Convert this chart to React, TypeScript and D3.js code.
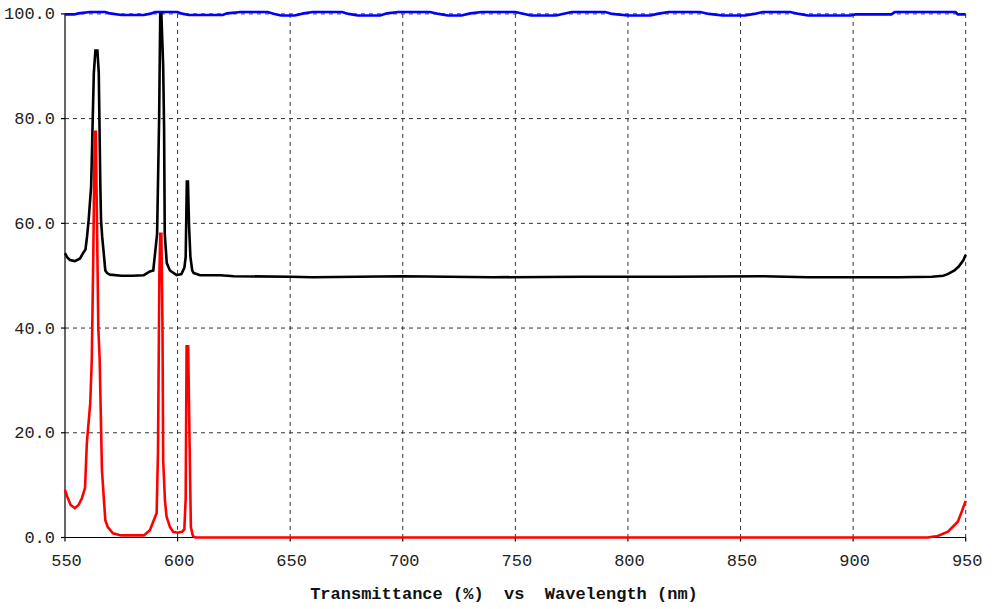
import * as d3 from "d3";

// wavelength (nm) / transmittance (%) samples
const blueNm = [550, 554, 556, 561, 568, 570, 575, 585, 588, 590, 600, 602, 605, 620, 622, 628, 640, 643, 646, 652, 656, 660, 673, 676, 680, 690, 693, 698, 712, 716, 720, 726, 730, 735, 750, 754, 757, 768, 771, 775, 790, 793, 800, 810, 813, 818, 832, 836, 842, 852, 856, 860, 872, 876, 880, 899, 901, 917, 918.5, 945.5, 946.5, 950];
const blueVal = [99.9, 99.9, 100.1, 100.35, 100.35, 100.1, 99.8, 99.8, 100.05, 100.35, 100.35, 100.05, 99.8, 99.8, 100.1, 100.35, 100.35, 100.0, 99.7, 99.7, 100.1, 100.35, 100.35, 100.0, 99.7, 99.7, 100.1, 100.35, 100.35, 100.0, 99.7, 99.7, 100.1, 100.35, 100.35, 100.0, 99.7, 99.7, 100.0, 100.35, 100.35, 100.0, 99.7, 99.7, 100.0, 100.35, 100.35, 100.0, 99.7, 99.7, 100.0, 100.35, 100.35, 100.0, 99.7, 99.7, 99.9, 99.9, 100.35, 100.35, 99.9, 99.9];

const blackNm = [550, 551, 552.2, 554.4, 556.7, 558, 559.1, 559.8, 560.5, 561.6, 562.8, 563.5, 564.4, 565.0, 565.7, 566.0, 566.5, 567.2, 567.9, 568.7, 570, 575, 580, 585, 587.7, 589.2, 590.9, 591.8, 592.3, 592.8, 593.6, 594.0, 594.3, 595.2, 596.6, 599.6, 601.7, 603.0, 603.6, 604.1, 604.6, 605.1, 605.7, 606.5, 607.2, 610, 619, 625, 650, 660, 700, 740, 780, 820, 860, 880, 920, 935, 940, 942, 945, 947, 949, 950];
const blackVal = [54.3, 53.5, 53.0, 52.8, 53.3, 54.3, 55, 57.5, 60.6, 67, 88.7, 93, 93, 88.7, 67, 60.6, 57.5, 54.3, 51, 50.5, 50.2, 50.0, 50.0, 50.1, 50.8, 51, 58, 80, 100, 100, 90, 78.5, 58, 52.4, 51, 50.1, 50.3, 51.5, 53.6, 68, 68, 59.4, 53.6, 51, 50.5, 50.1, 50.1, 49.9, 49.8, 49.7, 49.9, 49.7, 49.8, 49.8, 49.9, 49.7, 49.7, 49.8, 50.0, 50.3, 51.0, 51.8, 53, 54];

const redNm = [550, 551, 552.5, 554.4, 556, 557.5, 558.9, 559.7, 561.2, 561.9, 562.6, 563.2, 563.7, 564.2, 564.8, 565.4, 566.4, 567.9, 569, 571.3, 575, 585, 587.7, 590.7, 591.3, 591.9, 592.3, 592.8, 593.3, 593.6, 594.4, 595.1, 596.6, 598, 600, 602, 603.0, 603.6, 604.0, 604.7, 605.3, 605.9, 606.8, 607.9, 933, 937.6, 942.1, 946.5, 948.2, 950];
const redVal = [9.1, 7.8, 6.2, 5.6, 6.2, 7.5, 9.5, 18, 25.6, 34, 55, 77.5, 77.5, 60, 40, 34, 12.9, 3.3, 2, 0.8, 0.4, 0.4, 1.4, 4.7, 16.4, 50, 58, 58, 40, 14.8, 7, 4, 2, 1.1, 0.9, 1.1, 1.6, 7.5, 36.5, 36.5, 18.6, 2, 0.3, 0, 0, 0.3, 1.1, 3, 4.9, 7];

const xTicks = [550, 600, 650, 700, 750, 800, 850, 900, 950];
const yTicks = [0, 20, 40, 60, 80, 100];

const W = 1006;
const H = 609;
const font = "'Liberation Mono', 'DejaVu Sans Mono', monospace";

type Pt = [number, number];
const zip = (a: number[], b: number[]): Pt[] => a.map((v, i) => [v, b[i]]);

export default function App() {
    const x = d3.scaleLinear().domain([550, 950]).range([65, 965.7]);
    const y = d3.scaleLinear().domain([0, 100]).range([537.5, 13.9]);
    const line = d3.line<Pt>().x((d) => x(d[0])).y((d) => y(d[1]));

    const series = [
        { pts: zip(blueNm, blueVal), color: "#0000ff" },
        { pts: zip(blackNm, blackVal), color: "#000000" },
        { pts: zip(redNm, redVal), color: "#ff0000" },
    ];

    return (
        <svg width={W} height={H} style={{ position: "absolute", left: 0, top: 0, background: "#fff" }}>
            {/* grid */}
            {xTicks.slice(1).map((t) => (
                <line key={"gx" + t} x1={x(t)} x2={x(t)} y1={y(100)} y2={y(0)}
                    stroke="#333" strokeWidth={1} strokeDasharray="4,4" />
            ))}
            {yTicks.slice(1).map((t) => (
                <line key={"gy" + t} x1={x(550)} x2={x(950)} y1={y(t)} y2={y(t)}
                    stroke="#333" strokeWidth={1} strokeDasharray="4,4" />
            ))}
            {/* axes */}
            <line x1={x(550)} x2={x(550)} y1={y(100)} y2={y(0)} stroke="#000" strokeWidth={1.2} />
            <line x1={x(550)} x2={x(950)} y1={y(0)} y2={y(0)} stroke="#000" strokeWidth={1.2} />
            {yTicks.map((t) => (
                <g key={"ty" + t}>
                    <line x1={x(550) - 4} x2={x(550)} y1={y(t)} y2={y(t)} stroke="#000" strokeWidth={1.2} />
                    <text x={55} y={y(t)} dy="0.32em" textAnchor="end" fontFamily={font} fontSize={17} fill="#222">
                        {d3.format(".1f")(t)}
                    </text>
                </g>
            ))}
            {xTicks.map((t) => (
                <g key={"tx" + t}>
                    <line x1={x(t)} x2={x(t)} y1={y(0)} y2={y(0) + 4} stroke="#000" strokeWidth={1.2} />
                    <text x={x(t) + 1.5} y={566} textAnchor="middle" fontFamily={font} fontSize={17} fill="#222">
                        {t}
                    </text>
                </g>
            ))}
            {/* curves */}
            {series.map((s, i) => (
                <path key={i} d={line(s.pts) ?? ""} fill="none" stroke={s.color} strokeWidth={2.6} />
            ))}
            <text x={504} y={599} textAnchor="middle" fontFamily={font} fontSize={17} fontWeight="bold"
                fill="#111" style={{ whiteSpace: "pre" }}>
                {"Transmittance (%)  vs  Wavelength (nm)"}
            </text>
        </svg>
    );
}
